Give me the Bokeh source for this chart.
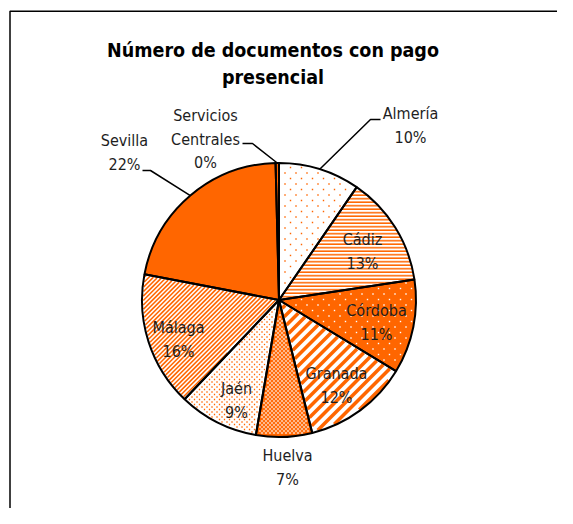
import math
import numpy as np
from bokeh.plotting import figure
from bokeh.models import Range1d, ColumnDataSource
from bokeh.embed import file_html
from bokeh.resources import INLINE
from bokeh.core.properties import value

# ---- data ----
categories = ["Almería", "Cádiz", "Córdoba", "Granada", "Huelva", "Jaén",
              "Málaga", "Sevilla", "Servicios Centrales"]
shares = [9.6, 13.0, 11.1, 12.4, 6.6, 9.4, 15.9, 21.6, 0.4]
label_names = ["Almería", "Cádiz", "Córdoba", "Granada", "Huelva", "Jaén",
               "Málaga", "Sevilla", "Servicios\nCentrales"]
title_lines = ["Número de documentos con pago", "presencial"]

# ---- styles ----
ORANGE = "#FF6600"
WHITE = "#FFFFFF"

# fill + texture: dots=(spacing, dot w, dot h, colour); stripes=(horizontal period, width, colour)
styles = [
    dict(fill=WHITE, dots=(11, 1.4, 1.4, ORANGE)),                      # Almería
    dict(fill=WHITE, hatch=("horizontal_line", ORANGE, 3.5, 1.6)),      # Cádiz
    dict(fill=ORANGE, dots=(11, 1.4, 1.4, WHITE)),                      # Córdoba
    dict(fill=WHITE, stripes=(10.5, 3.6, ORANGE)),                      # Granada
    dict(fill=ORANGE, dots=(4, 2.2, 1.1, WHITE)),                       # Huelva
    dict(fill=WHITE, dots=(5, 1.3, 1.3, ORANGE)),                       # Jaén
    dict(fill=WHITE, stripes=(4.4, 1.6, ORANGE)),                       # Málaga
    dict(fill=ORANGE),                                                  # Sevilla
    dict(fill=ORANGE),                                                  # Servicios Centrales
]

W, H = 557, 508
PAGE_H = 524


def sy(y_screen):
    return PAGE_H - y_screen


CX, CY, R = 278.5, sy(299.5), 137

total = sum(shares)
starts, ends, mids = [], [], []
acc = 0.0
for v in shares:
    a0 = math.pi / 2 - 2 * math.pi * acc / total
    acc += v
    a1 = math.pi / 2 - 2 * math.pi * acc / total
    starts.append(a0)
    ends.append(a1)
    mids.append((a0 + a1) / 2)

p = figure(width=W, height=H, output_backend="svg", toolbar_location=None,
           x_range=Range1d(0, W), y_range=Range1d(PAGE_H - H, PAGE_H),
           min_border=0, outline_line_color=None)
p.axis.visible = False
p.grid.visible = False
p.background_fill_color = WHITE
p.border_fill_color = WHITE

# chart frame (right/bottom sides fall outside the picture)
p.quad(left=[9.5], right=[900], top=[sy(10.75)], bottom=[-400],
       fill_color=None, line_color="#000000", line_width=1.5)


def inside(i, x, y, inset):
    dx, dy = x - CX, y - CY
    r = np.hypot(dx, dy)
    th = np.arctan2(dy, dx)
    d = np.mod(starts[i] - th, 2 * math.pi)
    span = starts[i] - ends[i]
    perp_a = r * np.sin(np.minimum(d, math.pi / 2))
    perp_b = r * np.sin(np.minimum(np.maximum(span - d, 0), math.pi / 2))
    return (r < R - inset) & (d < span) & (perp_a > inset) & (perp_b > inset)


# slice fills
for i, st in enumerate(styles):
    src = ColumnDataSource(dict(x=[CX], y=[CY], s=[starts[i]], e=[ends[i]]))
    kw = {}
    if "hatch" in st:
        pat, col, sc, wt = st["hatch"]
        kw = dict(hatch_pattern=pat, hatch_color=col, hatch_scale=sc, hatch_weight=wt)
    p.wedge(x="x", y="y", radius=R, start_angle="s", end_angle="e",
            direction="clock", source=src,
            fill_color=st["fill"], line_color=None, **kw)

# dot textures
for i, st in enumerate(styles):
    if "dots" not in st:
        continue
    spacing, dw, dh, col = st["dots"]
    half = spacing / 2
    dxs, dys = [], []
    for j, yv in enumerate(np.arange(CY - R, CY + R + 1, half)):
        off = 0 if j % 2 == 0 else half
        xv = np.arange(CX - R - spacing + off, CX + R + spacing, spacing)
        ok = inside(i, xv, np.full_like(xv, yv), 2)
        dxs.extend(xv[ok].tolist())
        dys.extend([yv] * int(ok.sum()))
    p.rect(x=dxs, y=dys, width=dw, height=dh, fill_color=col, line_color=None)

# diagonal stripe textures ("/" direction)
for i, st in enumerate(styles):
    if "stripes" not in st:
        continue
    period, lw, col = st["stripes"]
    t = np.arange(CX - R - 5, CX + R + 5, 0.25)
    sxs, sys_ = [], []
    for c in np.arange(CY - CX - 2 * R, CY - CX + 2 * R, period):
        yy = t + c
        ok = inside(i, t, yy, 1.0)
        if ok.sum() < 2:
            continue
        idx = np.nonzero(ok)[0]
        sxs.append([t[idx[0]], t[idx[-1]]])
        sys_.append([yy[idx[0]], yy[idx[-1]]])
    p.multi_line(xs=sxs, ys=sys_, line_color=col, line_width=lw, line_cap="butt")

# slice outlines on top
p.wedge(x=[CX] * len(shares), y=[CY] * len(shares), radius=R,
        start_angle=starts, end_angle=ends, direction="clock",
        fill_color=None, line_color="#000000", line_width=2)

# labels: (center x, center y of first line) in screen pixels
label_pos = {
    "Almería": (410, 113),
    "Cádiz": (362, 239),
    "Córdoba": (376, 310),
    "Granada": (336, 373),
    "Huelva": (287, 455),
    "Jaén": (236, 388),
    "Málaga": (178, 327),
    "Sevilla": (124, 140),
    "Servicios Centrales": (205, 115),
}
LINE = 23.5
xs, ys, ts = [], [], []
for cat, name, v in zip(categories, label_names, shares):
    lines = name.split("\n") + [f"{round(v)}%"]
    lx, ly = label_pos[cat]
    for k, tx in enumerate(lines):
        xs.append(lx)
        ys.append(sy(ly + k * LINE))
        ts.append(tx)
p.text(x=xs, y=ys, text=ts, text_align="center", text_baseline="middle",
       text_font=value("DejaVu Sans Condensed"), text_font_size="16px",
       text_color="#1e1e1e")

# leader lines for outside labels: (bend, end) in screen pixels
leaders = {
    "Almería": ((370, 119), (380, 119)),
    "Sevilla": ((150, 170), (142, 170)),
    "Servicios Centrales": ((252, 143), (242, 143)),
}
for cat, (bend, end) in leaders.items():
    i = categories.index(cat)
    ex = CX + R * math.cos(mids[i])
    ey = CY + R * math.sin(mids[i])
    p.line(x=[ex, bend[0], end[0]], y=[ey, sy(bend[1]), sy(end[1])],
           line_color="#000000", line_width=1.5)

# title
p.text(x=[272.5, 272.5], y=[sy(50), sy(77)], text=title_lines,
       text_align="center", text_baseline="middle",
       text_font=value("DejaVu Sans Condensed"), text_font_style="bold",
       text_font_size="19.5px", text_color="#000000")

open("out.html", "w").write(file_html(p, INLINE))
